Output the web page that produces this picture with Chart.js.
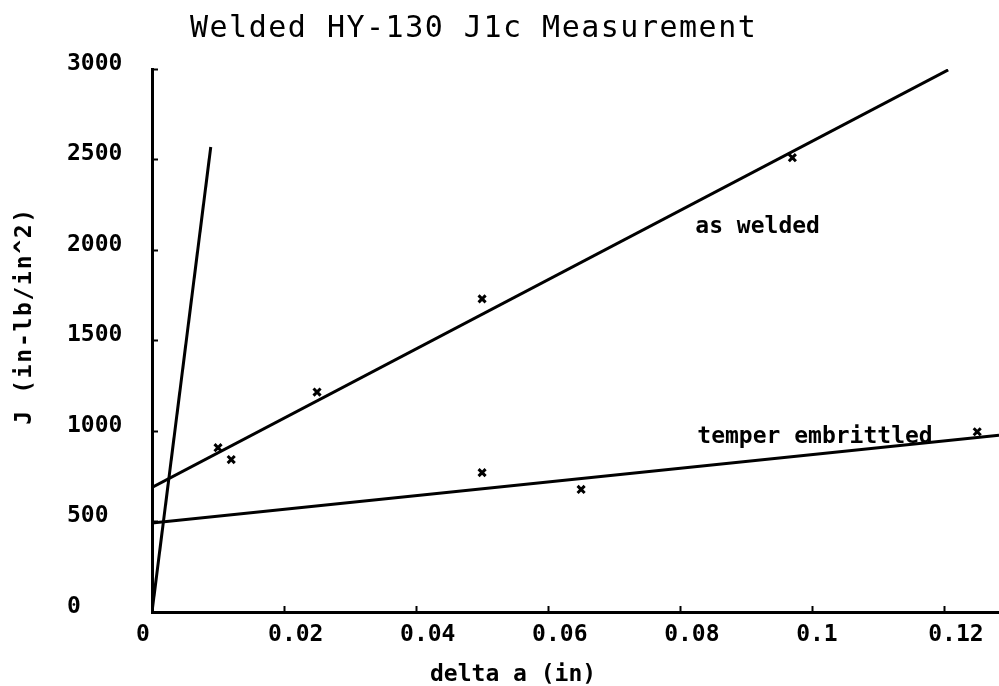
<!DOCTYPE html>
<html>
<head>
<meta charset="utf-8">
<title>Welded HY-130 J1c Measurement</title>
<script src="https://cdn.jsdelivr.net/npm/chart.js@4.4.1/dist/chart.umd.min.js"></script>
<style>
  html, body { margin: 0; padding: 0; background: #fff; }
  .wrap { width: 999px; height: 686px; position: relative; }
</style>
</head>
<body>
<div class="wrap"><canvas id="jChart"></canvas></div>
<script>
// measured points (delta a in, J in-lb/in^2)
const asWeldedX = [0.010, 0.012, 0.025, 0.050, 0.097];
const asWeldedJ = [908, 842, 1215, 1730, 2510];
const temperX = [0.050, 0.065, 0.125];
const temperJ = [770, 677, 996];

// fitted lines, two end points each
const bluntX = [0, 0.0089];
const bluntJ = [0, 2569];
const weldFitX = [0, 0.1206];
const weldFitJ = [688, 2995];
const temperFitX = [0, 0.1283];
const temperFitJ = [492, 977];

const xTickLabels = ['0', '0.02', '0.04', '0.06', '0.08', '0.1', '0.12'];
const yTickLabels = ['0', '500', '1000', '1500', '2000', '2500', '3000'];

const toPts = (xs, ys) => xs.map((x, i) => ({ x: x, y: ys[i] }));

const lineSet = (xs, ys) => ({
    data: toPts(xs, ys),
    showLine: true,
    borderColor: '#000',
    borderWidth: 3,
    pointRadius: 0,
    fill: false
});

const markSet = (xs, ys) => ({
    data: toPts(xs, ys),
    showLine: false,
    pointStyle: 'crossRot',
    pointRadius: 5,
    borderColor: '#000',
    borderWidth: 3
});

const boldFont = 'bold 23px "DejaVu Sans Mono"';

// title, axis titles and the two curve labels
const textPlugin = {
    id: 'texts',
    afterDraw(chart) {
        const ctx = chart.ctx;
        const xs = chart.scales.x, ys = chart.scales.y;
        ctx.save();
        ctx.fillStyle = '#000';
        ctx.textBaseline = 'alphabetic';
        ctx.textAlign = 'left';

        ctx.font = '30px "DejaVu Sans Mono"';
        ctx.letterSpacing = '1.5px';
        ctx.fillText('Welded HY-130 J1c Measurement', 190, 37);

        ctx.font = boldFont;
        ctx.letterSpacing = '0px';
        ctx.fillText('delta a (in)', 430, 681);

        ctx.fillText('as welded', xs.getPixelForValue(0.0823), ys.getPixelForValue(2094));
        ctx.fillText('temper embrittled', xs.getPixelForValue(0.0826), ys.getPixelForValue(934));

        ctx.translate(31, 316);
        ctx.rotate(-Math.PI / 2);
        ctx.textAlign = 'center';
        ctx.letterSpacing = '1.7px';
        ctx.fillText('J (in-lb/in^2)', 0, 0);
        ctx.restore();
    }
};

const noPad = (scale) => {
    scale.paddingLeft = 0;
    scale.paddingRight = 0;
    scale.paddingTop = 0;
    scale.paddingBottom = 0;
};

new Chart(document.getElementById('jChart'), {
    type: 'scatter',
    data: {
        datasets: [
            lineSet(bluntX, bluntJ),
            lineSet(weldFitX, weldFitJ),
            lineSet(temperFitX, temperFitJ),
            markSet(asWeldedX, asWeldedJ),
            markSet(temperX, temperJ)
        ]
    },
    options: {
        responsive: true,
        maintainAspectRatio: false,
        animation: false,
        layout: { autoPadding: false, padding: { left: 67, top: 69, right: 0, bottom: 0 } },
        plugins: {
            legend: { display: false },
            tooltip: { enabled: false }
        },
        scales: {
            x: {
                type: 'linear',
                min: 0,
                max: 0.1283,
                border: { display: true, color: '#000', width: 3 },
                grid: {
                    drawOnChartArea: false,
                    drawTicks: true,
                    tickLength: -6,
                    tickWidth: 2,
                    tickColor: '#000'
                },
                ticks: {
                    stepSize: 0.02,
                    includeBounds: false,
                    align: 'start',
                    labelOffset: -16,
                    padding: 15,
                    color: '#000',
                    font: { family: 'DejaVu Sans Mono', size: 23, weight: 'bold' },
                    callback: (v, i) => xTickLabels[i]
                },
                afterFit(scale) { scale.height = 74; noPad(scale); }
            },
            y: {
                type: 'linear',
                min: 0,
                max: 3000,
                border: { display: true, color: '#000', width: 3 },
                grid: {
                    drawOnChartArea: false,
                    drawTicks: true,
                    tickLength: -6,
                    tickWidth: 2,
                    tickColor: '#000'
                },
                ticks: {
                    stepSize: 500,
                    crossAlign: 'far',
                    labelOffset: -5,
                    color: '#000',
                    font: { family: 'DejaVu Sans Mono', size: 23, weight: 'bold' },
                    callback: (v, i) => yTickLabels[i]
                },
                afterFit(scale) { scale.width = 85; noPad(scale); }
            }
        }
    },
    plugins: [textPlugin]
});
</script>
</body>
</html>
